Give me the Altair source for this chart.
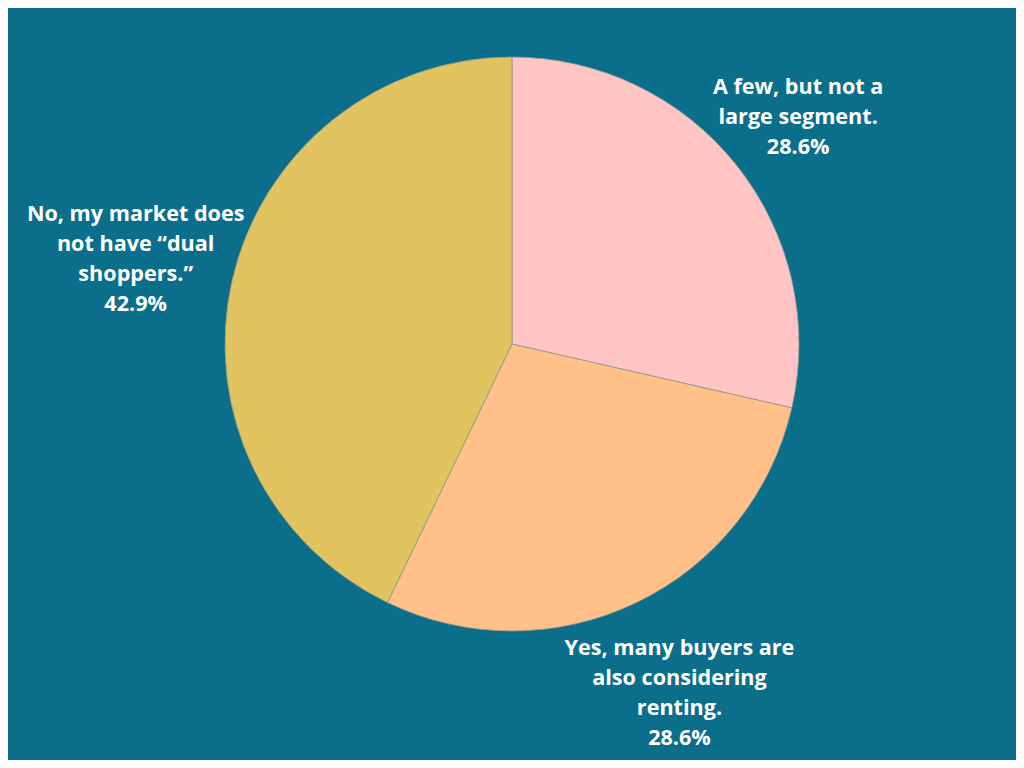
import altair as alt
import pandas as pd

categories = [
    "A few, but not a large segment.",
    "Yes, many buyers are also considering renting.",
    "No, my market does not have \u201cdual shoppers.\u201d",
]
shares = [28.6, 28.6, 42.9]
label_lines = [
    ["A few, but not a", "large segment."],
    ["Yes, many buyers are", "also considering", "renting."],
    ["No, my market does", "not have \u201cdual", "shoppers.\u201d"],
]
colors = ["#FFC5C5", "#FFC189", "#E1C45F"]

LH = 30  # line height of labels

df = pd.DataFrame({
    "category": categories,
    "share": shares,
    "order": list(range(len(categories))),
    "label": ["\n".join(lines + [f"{s}%"]) for lines, s in zip(label_lines, shares)],
})

base = alt.Chart(df).encode(
    theta=alt.Theta("share:Q", stack=True),
    order=alt.Order("order:Q"),
)

pie = base.mark_arc(outerRadius=287, stroke="#8f9a86", strokeWidth=0.8).encode(
    color=alt.Color("category:N", scale=alt.Scale(domain=categories, range=colors), legend=None)
)

text = base.transform_calculate(
    nl="length(split(datum.label, '\\n'))"
).mark_text(
    radius=alt.ExprRef("306 + 20 * datum.nl"),
    dy=alt.ExprRef(f"2 - (datum.nl - 1) * {LH} / 2"),
    font="Open Sans", fontWeight="bold", fontSize=21.6, color="white",
    lineBreak="\n", lineHeight=LH, align="center", baseline="middle",
).encode(text="label:N")

chart = (pie + text).properties(
    width=1008, height=672,
    padding={"left": 0, "right": 0, "top": 0, "bottom": 80},
    background="#0B6E8A",
    autosize=alt.AutoSizeParams(type="none"),
).configure_view(strokeWidth=0)

chart.save("out.html", embed_options={"renderer": "svg", "actions": False})
